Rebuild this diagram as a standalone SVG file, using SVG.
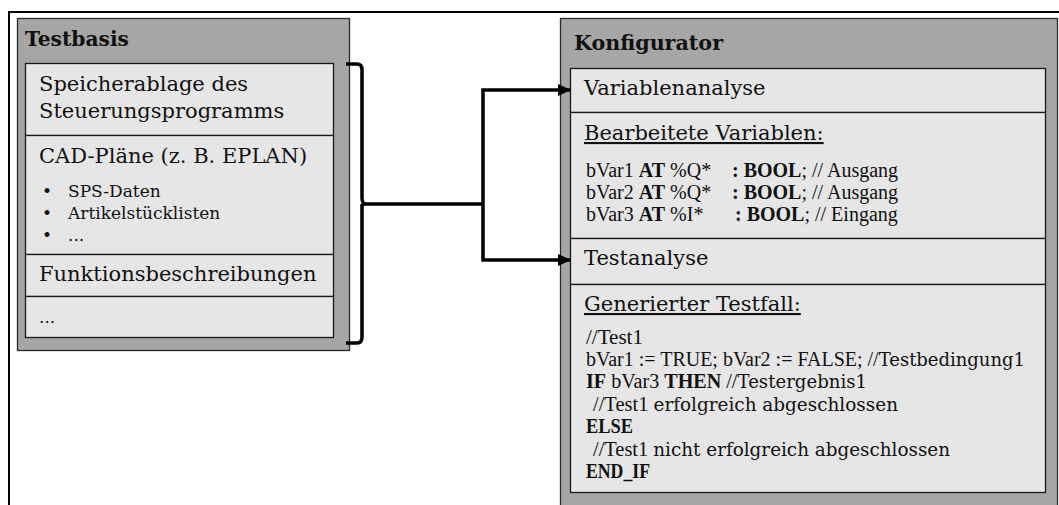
<svg xmlns="http://www.w3.org/2000/svg" width="1059" height="505" viewBox="0 0 1059 505">
<style>
.frame{fill:none;stroke:#000;stroke-width:2}
.outer{fill:#a6a6a6;stroke:#2a2a2a;stroke-width:1.3}
.inner{fill:#e6e6e6;stroke:#1a1a1a;stroke-width:1.3}
.title{font-family:"DejaVu Serif",serif;font-weight:bold;font-size:21px;fill:#111}
.lbl{font-family:"DejaVu Serif",serif;font-size:21px;fill:#111}
.sm{font-family:"DejaVu Serif",serif;font-size:17px;fill:#111}
.code{font-family:"Liberation Serif","Times New Roman",serif;font-size:20px;fill:#111}
.cm{font-family:"DejaVu Serif",serif;font-size:18px}
.b{font-weight:bold}
.conn{fill:none;stroke:#000;stroke-width:3.5;stroke-linejoin:miter}
</style>
<defs>
<marker id="arr" markerWidth="13" markerHeight="12" refX="12" refY="6" orient="auto" markerUnits="userSpaceOnUse">
<path d="M0,0 L13,6 L0,12 Z" fill="#000"/>
</marker>
</defs>
<rect width="1059" height="505" fill="#fff"/>
<path class="frame" d="M9,505 V12 H1059"/>

<g id="testbasis">
<rect class="outer" x="17.5" y="18.5" width="332" height="332"/>
<text class="title" x="25" y="46" textLength="104" lengthAdjust="spacingAndGlyphs">Testbasis</text>
<g id="tb-speicher">
<rect class="inner" x="25.5" y="63.5" width="308" height="72"/>
<text class="lbl" x="39" y="91">Speicherablage des</text>
<text class="lbl" x="39" y="118">Steuerungsprogramms</text>
</g>
<g id="tb-cad">
<rect class="inner" x="25.5" y="135.5" width="308" height="119"/>
<text class="lbl" x="39" y="163">CAD-Pläne (z. B. EPLAN)</text>
<text class="sm" x="42" y="197">•</text><text class="sm" x="68" y="197">SPS-Daten</text>
<text class="sm" x="42" y="219">•</text><text class="sm" x="68" y="219">Artikelstücklisten</text>
<text class="sm" x="42" y="241">•</text><text class="sm" x="68" y="241">...</text>
</g>
<g id="tb-funktion">
<rect class="inner" x="25.5" y="254.5" width="308" height="42"/>
<text class="lbl" x="39" y="281">Funktionsbeschreibungen</text>
</g>
<g id="tb-more">
<rect class="inner" x="25.5" y="296.5" width="308" height="41"/>
<text class="sm" x="39" y="323">...</text>
</g>
</g>

<g id="konfigurator">
<rect class="outer" x="560.5" y="18.5" width="497" height="490"/>
<text class="title" x="574" y="50" textLength="149" lengthAdjust="spacingAndGlyphs">Konfigurator</text>
<g id="k-variablenanalyse">
<rect class="inner" x="570.5" y="68.5" width="475" height="44"/>
<text class="lbl" x="584" y="95">Variablenanalyse</text>
</g>
<g id="k-variablen">
<rect class="inner" x="570.5" y="112.5" width="475" height="126"/>
<text class="lbl" x="584" y="140" text-decoration="underline">Bearbeitete Variablen:</text>
<text class="code" x="586" y="177">bVar1 <tspan class="b">AT</tspan> %Q*<tspan x="732" class="b">: BOOL</tspan>; // Ausgang</text>
<text class="code" x="586" y="199">bVar2 <tspan class="b">AT</tspan> %Q*<tspan x="732" class="b">: BOOL</tspan>; // Ausgang</text>
<text class="code" x="586" y="221">bVar3 <tspan class="b">AT</tspan> %I*<tspan x="735" class="b">: BOOL</tspan>; // Eingang</text>
</g>
<g id="k-testanalyse">
<rect class="inner" x="570.5" y="238.5" width="475" height="46"/>
<text class="lbl" x="584" y="265">Testanalyse</text>
</g>
<g id="k-testfall">
<rect class="inner" x="570.5" y="284.5" width="475" height="208"/>
<text class="lbl" x="584" y="311" text-decoration="underline">Generierter Testfall:</text>
<text class="code" x="586" y="344" textLength="57" lengthAdjust="spacingAndGlyphs">//Test1</text>
<text class="code" x="586" y="366" textLength="439" lengthAdjust="spacingAndGlyphs">bVar1 := TRUE; bVar2 := FALSE; //<tspan class="cm">Testbedingung1</tspan></text>
<text class="code" x="586" y="388" textLength="281" lengthAdjust="spacingAndGlyphs"><tspan class="b">IF</tspan> bVar3 <tspan class="b">THEN</tspan>  //<tspan class="cm">Testergebnis1</tspan></text>
<text class="code" x="593" y="411" textLength="305" lengthAdjust="spacingAndGlyphs">//Test1 <tspan class="cm">erfolgreich abgeschlossen</tspan></text>
<text class="code" x="586" y="433" font-weight="bold" textLength="47" lengthAdjust="spacingAndGlyphs">ELSE</text>
<text class="code" x="593" y="456" textLength="357" lengthAdjust="spacingAndGlyphs">//Test1 <tspan class="cm">nicht erfolgreich abgeschlossen</tspan></text>
<text class="code" x="586" y="478" font-weight="bold" textLength="64" lengthAdjust="spacingAndGlyphs">END_IF</text>
</g>
</g>

<g id="connectors">
<path class="conn" d="M346,64 H357 Q362,64 362,70 V198 Q362,204 366,204 M362,204 Q362,204 362,210 V337 Q362,343 357,343 H346"/>
<path class="conn" d="M362,204 H483"/>
<path class="conn" d="M483,204 V90 H570" marker-end="url(#arr)"/>
<path class="conn" d="M483,204 V260 H570" marker-end="url(#arr)"/>
</g>
</svg>
